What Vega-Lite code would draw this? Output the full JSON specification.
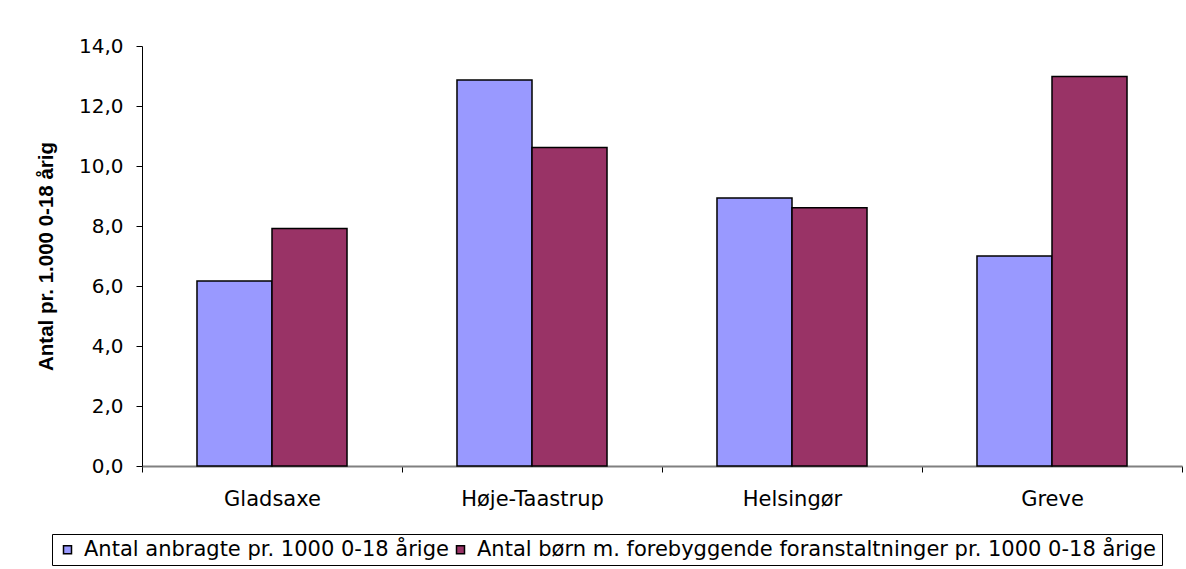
{
  "$schema": "https://vega.github.io/schema/vega-lite/v6.json",
  "width": 1040,
  "height": 420,
  "autosize": {"type": "none"},
  "padding": {"left": 142, "top": 46, "right": 4, "bottom": 103},
  "background": "white",
  "data": {
    "values": [
      {"kommune": "Gladsaxe", "serie": "Antal anbragte pr. 1000 0-18 årige", "value": 6.17},
      {"kommune": "Gladsaxe", "serie": "Antal børn m. forebyggende foranstaltninger pr. 1000 0-18 årige", "value": 7.92},
      {"kommune": "Høje-Taastrup", "serie": "Antal anbragte pr. 1000 0-18 årige", "value": 12.87},
      {"kommune": "Høje-Taastrup", "serie": "Antal børn m. forebyggende foranstaltninger pr. 1000 0-18 årige", "value": 10.62},
      {"kommune": "Helsingør", "serie": "Antal anbragte pr. 1000 0-18 årige", "value": 8.93},
      {"kommune": "Helsingør", "serie": "Antal børn m. forebyggende foranstaltninger pr. 1000 0-18 årige", "value": 8.61},
      {"kommune": "Greve", "serie": "Antal anbragte pr. 1000 0-18 årige", "value": 7.0},
      {"kommune": "Greve", "serie": "Antal børn m. forebyggende foranstaltninger pr. 1000 0-18 årige", "value": 12.98}
    ]
  },
  "mark": {"type": "bar", "stroke": "black", "strokeWidth": 1.5},
  "encoding": {
    "x": {
      "field": "kommune",
      "type": "nominal",
      "sort": ["Gladsaxe", "Høje-Taastrup", "Helsingør", "Greve"],
      "scale": {"paddingInner": 0, "paddingOuter": 0},
      "axis": {
        "title": null,
        "labelAngle": 0,
        "labelFont": "DejaVu Sans",
        "labelFontSize": 21,
        "labelColor": "black",
        "tickBand": "extent",
        "tickSize": 6,
        "tickColor": "black",
        "domainColor": "#808080",
        "domainWidth": 2,
        "labelPadding": 16
      }
    },
    "xOffset": {
      "field": "serie",
      "type": "nominal",
      "scale": {"paddingInner": 0, "paddingOuter": 0.733}
    },
    "y": {
      "field": "value",
      "type": "quantitative",
      "scale": {"domain": [0, 14], "nice": false},
      "axis": {
        "title": "Antal pr. 1.000 0-18 årig",
        "titleFont": "Liberation Sans",
        "titleFontSize": 20.5,
        "titleFontWeight": "bold",
        "titleColor": "black",
        "titlePadding": 22,
        "tickCount": 7,
        "labelExpr": "replace(format(datum.value, '.1f'), '.', ',')",
        "labelFont": "DejaVu Sans",
        "labelFontSize": 20,
        "labelColor": "black",
        "labelPadding": 13,
        "tickSize": 6,
        "tickColor": "black",
        "domainColor": "black",
        "grid": false
      }
    },
    "color": {
      "field": "serie",
      "type": "nominal",
      "scale": {"range": ["#9999FF", "#993366"]},
      "legend": {
        "title": null,
        "orient": "none",
        "legendX": -90,
        "legendY": 488,
        "direction": "horizontal",
        "symbolType": "square",
        "symbolSize": 64,
        "symbolStrokeColor": "black",
        "labelFont": "DejaVu Sans",
        "labelFontSize": 21,
        "labelColor": "black",
        "labelLimit": 1000,
        "labelOffset": 6,
        "columnPadding": 1,
        "padding": 5,
        "strokeColor": "black"
      }
    }
  },
  "config": {"view": {"stroke": null}}
}
